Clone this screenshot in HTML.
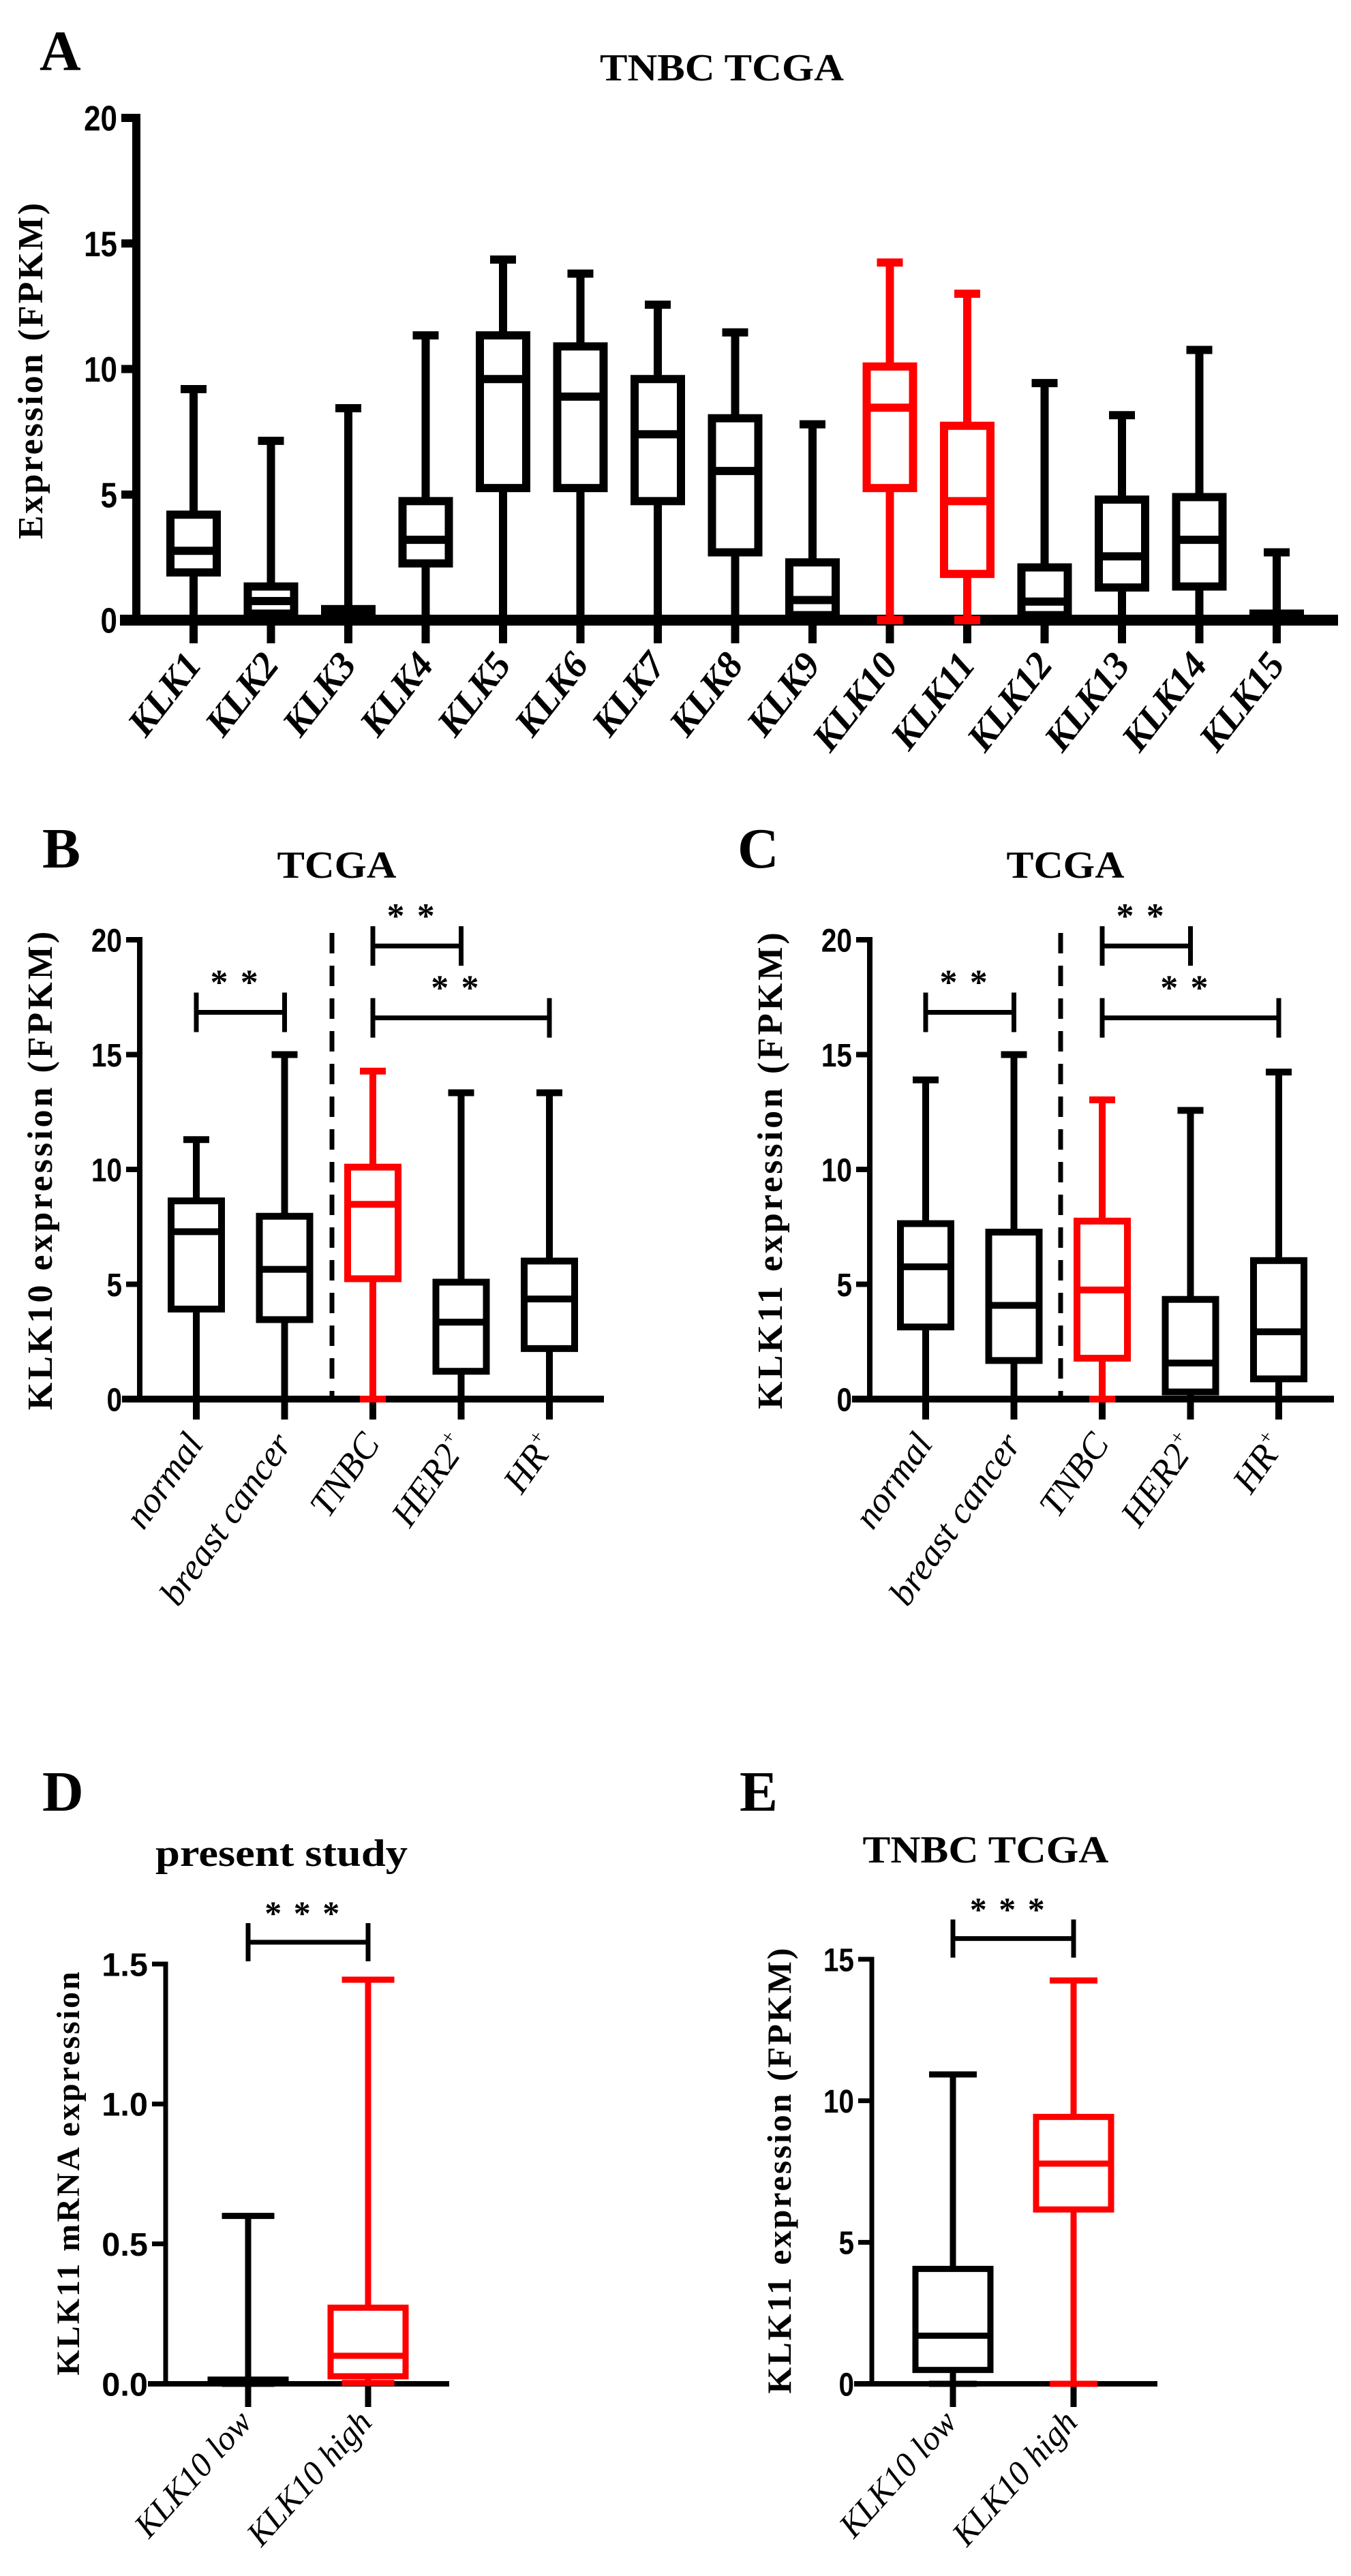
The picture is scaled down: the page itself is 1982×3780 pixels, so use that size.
<!DOCTYPE html>
<html><head><meta charset="utf-8">
<style>
html,body{margin:0;padding:0;background:#fff;}
svg{display:block;}
.tick{font-family:"Liberation Sans Narrow","Liberation Sans",sans-serif;font-weight:bold;}
.ser{font-family:"Liberation Serif",serif;}
</style></head>
<body>
<svg id="fig" xmlns="http://www.w3.org/2000/svg" width="1982" height="3780" viewBox="0 0 1982 3780">
<rect width="1982" height="3780" fill="#fff"/>
</svg>
<script>
// ---- Panel A data ----
const catsA = ["KLK1","KLK2","KLK3","KLK4","KLK5","KLK6","KLK7","KLK8","KLK9","KLK10","KLK11","KLK12","KLK13","KLK14","KLK15"];
const maxA = [9.2,7.14,8.44,11.34,14.36,13.8,12.56,11.46,7.8,14.24,13.0,9.44,8.16,10.76,2.7];
const q3A = [4.2,1.34,0.44,4.74,11.34,10.9,9.6,8.04,2.3,10.1,7.74,2.1,4.8,4.9,0.26];
const medA = [2.76,0.76,0.3,3.2,9.6,8.9,7.4,5.94,0.8,8.46,4.74,0.74,2.54,3.2,0.15];
const q1A = [1.9,0.26,0.14,2.26,5.26,5.26,4.74,2.7,0.2,5.26,1.84,0.2,1.3,1.34,0.06];
const minA = [0,0,0,0,0,0,0,0,0,0,0,0,0,0,0];
const redA = [false,false,false,false,false,false,false,false,false,true,true,false,false,false,false];
const ticksA = [0,5,10,15,20];
// ---- Panel B data ----
const catsB = ["normal","breast cancer","TNBC","HER2","HR"];
const supB = ["","","","+","+"];
const maxB = [11.3,15.0,14.28,13.34,13.34];
const q3B = [8.63,7.96,10.1,5.09,6.01];
const medB = [7.29,5.65,8.48,3.35,4.36];
const q1B = [3.92,3.46,5.24,1.21,2.2];
const minB = [0,0,0,0,0];
const redB = [false,false,true,false,false];
// ---- Panel C data ----
const catsC = ["normal","breast cancer","TNBC","HER2","HR"];
const maxC = [13.9,15.0,13.03,12.57,14.24];
const q3C = [7.64,7.27,7.75,4.34,6.03];
const medC = [5.76,4.08,4.75,1.57,2.93];
const q1C = [3.14,1.68,1.78,0.31,0.88];
const minC = [0,0,0,0,0];
const redC = [false,false,true,false,false];
const ticksBC = [0,5,10,15,20];
const sigB = [[0,1,16.84],[2,3,19.73],[2,4,16.6]];
const sigC = [[0,1,16.84],[2,3,19.73],[2,4,16.6]];
// ---- Panel D data ----
const catsD = ["KLK10 low","KLK10 high"];
const maxD = [0.60,1.444];
const q3D = [0.015,0.272];
const medD = [0.01,0.10];
const q1D = [0.005,0.027];
const minD = [0,0.003];
const redD = [false,true];
const ticksD = [0,0.5,1.0,1.5];
const tickLabD = ["0.0","0.5","1.0","1.5"];
const sigD = [[0,1,1.578]];
// ---- Panel E data ----
const catsE = ["KLK10 low","KLK10 high"];
const maxE = [10.93,14.25];
const q3E = [4.06,9.43];
const medE = [1.70,7.78];
const q1E = [0.49,6.16];
const minE = [0,0];
const redE = [false,true];
const ticksE = [0,5,10,15];
const sigE = [[0,1,15.73]];

const NS = "http://www.w3.org/2000/svg";
const svg = document.getElementById('fig');
function mk(tag, attrs, parent){
  const e = document.createElementNS(NS, tag);
  for (const k in attrs) e.setAttribute(k, attrs[k]);
  (parent||svg).appendChild(e);
  return e;
}
function line(g,x1,y1,x2,y2,c,w,name){
  const l = mk('line',{x1:x1,y1:y1,x2:x2,y2:y2,stroke:c,'stroke-width':w},g);
  
  
  return l;
}
function txt(g,x,y,s,size,cls,opts,name){
  const t = mk('text',Object.assign({x:x,y:y,'font-size':size,'class':cls},opts||{}),g);
  t.textContent = s;
  
  
  return t;
}

function panel(p){
  const g = mk('g',{});
  
  
  const ys = v => p.y0 - (v / p.vmax) * (p.y0 - p.yTop);
  const xs = i => p.x0 + i * p.dx;
  line(g,p.ax,p.y0+p.xw/2,p.ax,p.yTop-p.aw/2,'#000',p.aw,'y-axis');
  line(g,p.axStart,p.y0,p.axEnd,p.y0,'#000',p.xw,'x-axis');
  p.ticks.forEach((t,k)=>{
    const y = ys(t);
    const lab = p.tickLab?p.tickLab[k]:String(t);
    line(g,p.ax-p.tl,y,p.ax,y,'#000',p.aw,'y-tick');
    txt(g,p.ax-p.tl-6,y+p.tfs*0.36,lab,p.tfs,'tick',{'text-anchor':'end','textLength':lab.length*p.tfs*0.47,'lengthAdjust':'spacingAndGlyphs'},'y-tick-label');
  });
  p.cats.forEach((c,i)=>{
    const x = xs(i);
    const col = p.red[i] ? '#ff0000' : '#000';
    const bg = mk('g',{},g);
    
    
    line(bg,x,p.y0,x,p.y0+p.ctl,'#000',p.lw,'x-tick');
    line(bg,x,ys(p.max[i]),x,ys(p.q3[i]),col,p.lw,'whisker-upper');
    line(bg,x,ys(p.q1[i]),x,ys(p.min[i]),col,p.lw,'whisker-lower');
    line(bg,x-p.cw/2,ys(p.max[i]),x+p.cw/2,ys(p.max[i]),col,p.lw,'whisker-cap');
    line(bg,x-p.cw/2,ys(p.min[i]),x+p.cw/2,ys(p.min[i]),col,p.lw,'whisker-cap');
    const r = mk('rect',{x:x-p.bw/2,y:ys(p.q3[i]),width:p.bw,height:Math.max(1,ys(p.q1[i])-ys(p.q3[i])),fill:'none',stroke:col,'stroke-width':p.lw},bg);
    
    
    line(bg,x-p.bw/2,ys(p.med[i]),x+p.bw/2,ys(p.med[i]),col,p.lw,'median-line');
    const lx = x + p.lox, ly = p.y0 + p.loy;
    const t = txt(g,lx,ly,c,p.lfs,'ser',{'text-anchor':'end','font-style':'italic','font-weight':p.lbold?'bold':'normal',transform:'rotate('+(-p.rot)+' '+lx+' '+ly+')'},'x-label');
    if (p.sup && p.sup[i]){
      const ts = mk('tspan',{dy:-p.lfs*0.4,'font-size':p.lfs*0.55},t);
      ts.textContent = p.sup[i];
    }
  });
  (p.sig||[]).forEach(s=>{
    const x1 = xs(s[0]), x2 = xs(s[1]), y = ys(s[2]);
    const sg = mk('g',{},g);
    
    
    line(sg,x1,y,x2,y,'#000',p.sw,'bracket-bar');
    line(sg,x1,y-p.sh,x1,y+p.sh,'#000',p.sw,'bracket-end');
    line(sg,x2,y-p.sh,x2,y+p.sh,'#000',p.sw,'bracket-end');
    txt(sg,(x1+x2)/2,y-p.sh+p.starOff,p.stars,p.sfs,'ser',{'text-anchor':'middle','font-weight':'bold','letter-spacing':p.sfs*0.35},'significance-stars');
  });
  const tx = p.ytx, ty = p.yty;
  txt(g,tx,ty,p.ytitle,p.yfs,'ser',{'text-anchor':'middle','font-weight':'bold','letter-spacing':p.yls||0,transform:'rotate(-90 '+tx+' '+ty+')'},'y-axis-title');
  txt(g,p.titleX,p.titleY,p.title,p.titleFs,'ser',{'text-anchor':'middle','font-weight':'bold','textLength':p.titleW,'lengthAdjust':'spacingAndGlyphs'},'chart-title');
  txt(g,p.letX,p.letY,p.letter,p.letFs,'ser',{'font-weight':'bold'},'panel-letter');
  if (p.dash){
    const d = mk('line',{x1:p.dash,y1:p.yTop-10,x2:p.dash,y2:p.y0,stroke:'#000','stroke-width':7,'stroke-dasharray':'30,18'},g);
    
    
  }
}

panel({name:'panel-a',ax:200,y0:910,yTop:173,vmax:20,x0:284,dx:113.5,axStart:176,axEnd:1963,
  aw:12,xw:16,lw:12,tl:22,tfs:52,ticks:ticksA,ctl:34,bw:68,cw:38,
  cats:catsA,max:maxA,q3:q3A,med:medA,q1:q1A,min:minA,red:redA,
  lox:14,loy:66,lfs:56,lbold:true,rot:52,
  ytitle:'Expression (FPKM)',ytx:62,yty:543,yfs:52,yls:3,
  title:'TNBC TCGA',titleX:1059,titleY:118,titleFs:56,titleW:358,
  letter:'A',letX:58,letY:103,letFs:84});

panel({name:'panel-b',ax:205,y0:2053,yTop:1379,vmax:20,x0:288,dx:129.5,axStart:179,axEnd:886,
  aw:8,xw:10,lw:10,tl:20,tfs:48,ticks:ticksBC,ctl:30,bw:74,cw:38,
  cats:catsB,sup:supB,max:maxB,q3:q3B,med:medB,q1:q1B,min:minB,red:redB,
  lox:12,loy:66,lfs:54,lbold:false,rot:55,
  sig:sigB,sw:7,sh:29,sfs:52,stars:'**',starOff:2,
  dash:487,
  ytitle:'KLK10 expression (FPKM)',ytx:76,yty:1716,yfs:52,yls:4,
  title:'TCGA',titleX:494,titleY:1288,titleFs:56,titleW:175,
  letter:'B',letX:62,letY:1273,letFs:84});

panel({name:'panel-c',ax:1276,y0:2053,yTop:1379,vmax:20,x0:1358,dx:129.5,axStart:1250,axEnd:1957,
  aw:8,xw:10,lw:10,tl:20,tfs:48,ticks:ticksBC,ctl:30,bw:74,cw:38,
  cats:catsC,sup:supB,max:maxC,q3:q3C,med:medC,q1:q1C,min:minC,red:redC,
  lox:12,loy:66,lfs:54,lbold:false,rot:55,
  sig:sigC,sw:7,sh:29,sfs:52,stars:'**',starOff:2,
  dash:1556,
  ytitle:'KLK11 expression (FPKM)',ytx:1147,yty:1716,yfs:52,yls:4,
  title:'TCGA',titleX:1563,titleY:1288,titleFs:56,titleW:173,
  letter:'C',letX:1082,letY:1273,letFs:84});

panel({name:'panel-d',ax:243,y0:3498,yTop:2882,vmax:1.5,x0:364,dx:176,axStart:217,axEnd:659,
  aw:7,xw:8,lw:9,tl:20,tfs:48,ticks:ticksD,tickLab:tickLabD,ctl:34,bw:110,cw:77,
  cats:catsD,max:maxD,q3:q3D,med:medD,q1:q1D,min:minD,red:redD,
  lox:8,loy:58,lfs:50,lbold:false,rot:48,
  sig:sigD,sw:7,sh:28,sfs:50,stars:'***',starOff:2,
  ytitle:'KLK11 mRNA expression',ytx:116,yty:3188,yfs:48,yls:3,
  title:'present study',titleX:413,titleY:2738,titleFs:56,titleW:370,
  letter:'D',letX:62,letY:2657,letFs:84});

panel({name:'panel-e',ax:1279,y0:3498,yTop:2875,vmax:15,x0:1398,dx:177,axStart:1253,axEnd:1698,
  aw:7,xw:8,lw:9,tl:20,tfs:48,ticks:ticksE,ctl:34,bw:110,cw:70,
  cats:catsE,max:maxE,q3:q3E,med:medE,q1:q1E,min:minE,red:redE,
  lox:8,loy:58,lfs:50,lbold:false,rot:48,
  sig:sigE,sw:7,sh:28,sfs:50,stars:'***',starOff:2,
  ytitle:'KLK11 expression (FPKM)',ytx:1160,yty:3184,yfs:50,yls:3,
  title:'TNBC TCGA',titleX:1446,titleY:2733,titleFs:56,titleW:361,
  letter:'E',letX:1085,letY:2657,letFs:84});
</script>
</body></html>
